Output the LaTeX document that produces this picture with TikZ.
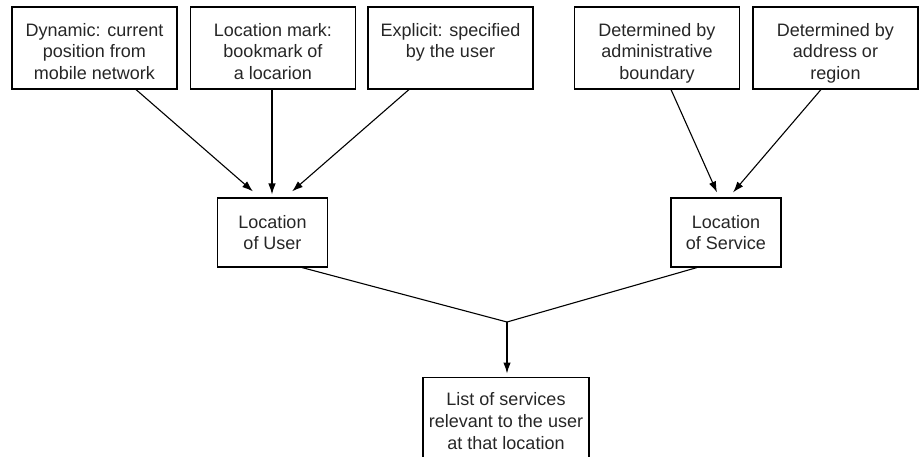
\documentclass[tikz,border=0pt]{standalone}
\usepackage{fontspec}
\setmainfont{Liberation Sans}
\usetikzlibrary{arrows.meta}
\begin{document}
\begin{tikzpicture}[x=1pt,y=-1pt,
  box/.style={draw=black, line width=1.1pt, inner sep=0pt, align=center,
    font=\fontsize{18}{20.8}\selectfont, text=black!85},
  topbox/.style={box, minimum width=165pt, minimum height=82pt},
  midbox/.style={box, minimum width=110pt, minimum height=69pt},
  txt/.style={inner sep=0pt, align=center, anchor=north, text=black!85},
  toptxt/.style={txt, font=\fontsize{18}{21.5}\selectfont},
  arr/.style={line width=1.1pt, -{Latex[length=11pt,width=7.5pt]}},
  ln/.style={line width=1.1pt}]
\useasboundingbox (0,0) rectangle (919,456);
\node[topbox] (b1) at (94.5,48) {};
\node[topbox] (b2) at (273,48) {};
\node[topbox] (b3) at (450.5,48) {};
\node[topbox] (b4) at (657,48) {};
\node[topbox] (b5) at (835.5,48) {};
\node[toptxt] (t1) at (94.5,23) {Dynamic: current\\position from\\mobile network};
\node[toptxt] (t2) at (273,23) {Location mark:\\bookmark of\\a locarion};
\node[toptxt] (t3) at (450.5,23) {Explicit: specified\\by the user};
\node[toptxt] (t4) at (657,23) {Determined by\\administrative\\boundary};
\node[toptxt] (t5) at (835.5,23) {Determined by\\address or\\region};
\node[midbox] (u) at (272.5,232.5) {Location\\of User};
\node[midbox] (s) at (726,232.5) {Location\\of Service};
\node[box, minimum width=166pt, minimum height=100pt, anchor=north] (l) at (506,376.5) {};
\node[txt, font=\fontsize{18}{22}\selectfont] (lt) at (506,392) {List of services\\relevant to the user\\at that location};
\coordinate (j) at (507,322);
\draw[arr] (b1.south -| 136,0) -- ([yshift=6pt]u.north -| 253,0);
\draw[arr] (b2.south -| 272,0) -- ([yshift=3pt]u.north -| 272,0);
\draw[arr] (b3.south -| 409,0) -- ([yshift=6pt]u.north -| 292,0);
\draw[arr] (b4.south -| 671,0) -- ([yshift=5pt]s.north -| 717,0);
\draw[arr] (b5.south -| 821,0) -- ([yshift=5pt]s.north -| 733,0);
\draw[ln] (u.south -| 302,0) -- (j);
\draw[ln] (s.south -| 697,0) -- (j);
\draw[arr] (j) -- ([yshift=3pt]l.north -| j);
\end{tikzpicture}
\end{document}
